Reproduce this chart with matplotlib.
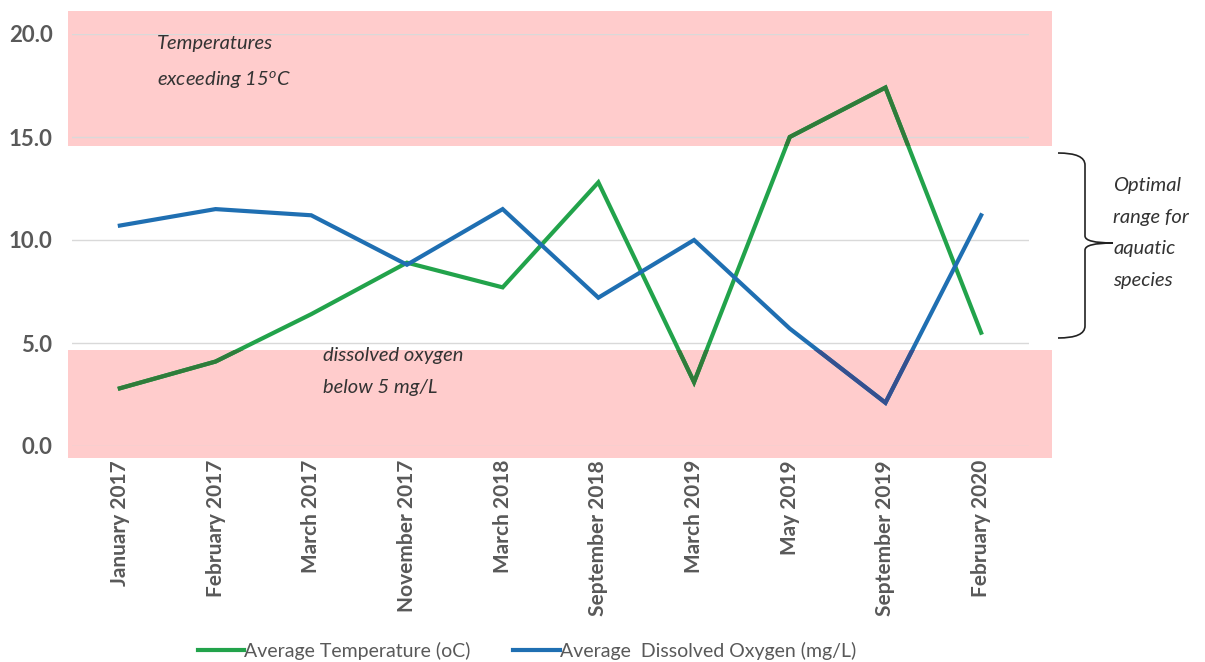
import matplotlib.pyplot as plt
from matplotlib.patches import Rectangle, PathPatch
from matplotlib.path import Path

# sampling dates and averages
dates = ['January 2017', 'February 2017', 'March 2017', 'November 2017', 'March 2018',
         'September 2018', 'March 2019', 'May 2019', 'September 2019', 'February 2020']
avg_temp = [2.8, 4.1, 6.4, 8.9, 7.7, 12.8, 3.1, 15.0, 17.4, 5.5]
avg_do = [10.7, 11.5, 11.2, 8.8, 11.5, 7.2, 10.0, 5.7, 2.1, 11.2]
yticks = [0, 5, 10, 15, 20]

GREEN = '#22a34b'
BLUE = '#1f6fb2'
GREEN_DARK = '#2f7c3a'
BLUE_DARK = '#34508f'
PINK = '#ffcccc'
GRAY = '#595959'

plt.rcParams['font.family'] = ['Lato', 'DejaVu Sans']
plt.rcParams['mathtext.fontset'] = 'custom'
plt.rcParams['mathtext.it'] = 'Lato:italic'
plt.rcParams['mathtext.rm'] = 'Lato:italic'

fig = plt.figure(figsize=(12.05, 6.62), dpi=100)
ax = fig.add_axes([72 / 1205, 1 - 446 / 662, (1029 - 72) / 1205, (446 - 34) / 662])

x = list(range(len(dates)))
ax.set_xlim(-0.5, len(dates) - 0.5)
ax.set_ylim(0, 20)

# shaded bands for out-of-range conditions
bands = []
for y0, y1 in [(14.55, 21.1), (-0.58, 4.65)]:
    r = Rectangle((-0.54, y0), 10.28, y1 - y0, facecolor=PINK, edgecolor='none',
                  zorder=0, clip_on=False)
    ax.add_patch(r)
    bands.append(r)

ax.set_yticks(yticks)
ax.set_yticklabels([f'{v:.1f}' for v in yticks])
ax.grid(axis='y', color='#d9d9d9', lw=1, zorder=1)
ax.set_axisbelow(True)
for s in ax.spines.values():
    s.set_visible(False)
ax.tick_params(length=0)
ax.tick_params(axis='y', pad=14, labelsize=16, labelcolor=GRAY)
ax.tick_params(axis='x', pad=10, labelsize=15, labelcolor=GRAY)
ax.set_xticks(x)
ax.set_xticklabels(dates, rotation=90, fontweight='bold')
for t in ax.get_yticklabels():
    t.set_fontweight('bold')

ln_t, = ax.plot(x, avg_temp, color=GREEN, lw=3, solid_joinstyle='miter', zorder=3,
                label='Average Temperature (oC)')
ln_d, = ax.plot(x, avg_do, color=BLUE, lw=3, solid_joinstyle='miter', zorder=3,
                label='Average  Dissolved Oxygen (mg/L)')

# darker look where lines pass through the bands
for r in bands:
    for vals, c in [(avg_temp, GREEN_DARK), (avg_do, BLUE_DARK)]:
        l, = ax.plot(x, vals, color=c, lw=3, solid_joinstyle='miter', zorder=4)
        l.set_clip_path(r)

txt = dict(style='italic', fontsize=14.5, color='#333333', linespacing=2.05)
fig.text(157 / 1205, 1 - 35 / 662, 'Temperatures\nexceeding 15$^{o}$C', va='top', **txt)
fig.text(323 / 1205, 1 - 347 / 662, 'dissolved oxygen\nbelow 5 mg/L', va='top', **txt)
fig.text(1113 / 1205, 1 - 177 / 662, 'Optimal\nrange for\naquatic\nspecies', va='top', **txt)

# curly brace on the right
pts = [(1058, 153), (1085, 153), (1085, 165), (1085, 236), (1085, 243), (1113, 243),
       (1085, 243), (1085, 250), (1085, 326), (1085, 338), (1058, 338)]
codes = [Path.MOVETO, Path.CURVE3, Path.CURVE3, Path.LINETO, Path.CURVE3, Path.CURVE3,
         Path.CURVE3, Path.CURVE3, Path.LINETO, Path.CURVE3, Path.CURVE3]
brace = Path([(px / 1205, 1 - py / 662) for px, py in pts], codes)
fig.add_artist(PathPatch(brace, transform=fig.transFigure, facecolor='none',
                         edgecolor='#222222', lw=1.2))

fig.legend(handles=[ln_t, ln_d], loc='center', bbox_to_anchor=(527 / 1205, 1 - 651 / 662),
           ncol=2, frameon=False, fontsize=14, labelcolor=GRAY, handlelength=2.4,
           handletextpad=0.0, columnspacing=2.2)

fig.savefig('out.png', dpi=100)
